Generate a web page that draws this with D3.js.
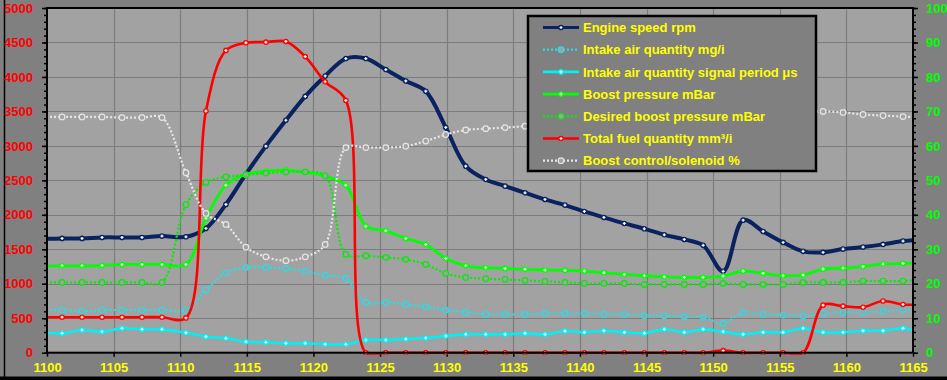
<!DOCTYPE html>
<html>
<head>
<meta charset="utf-8">
<script src="https://cdn.jsdelivr.net/npm/d3@7"></script>
<style>
  html, body { margin: 0; padding: 0; background: #808080; }
  svg { display: block; }
  text { font-family: "Liberation Sans", Arial, sans-serif; font-weight: bold; font-size: 13px; }
</style>
</head>
<body>
<div id="container"></div>
<script>
const width = 947;
const height = 380;

// sample times (first and last sit just outside the axis range)
const times = [1099.63, 1101.13, 1102.63, 1104.13, 1105.63, 1107.13, 1108.63, 1110.43, 1111.93, 1113.43,
  1114.93, 1116.43, 1117.93, 1119.38, 1120.88, 1122.43, 1123.93, 1125.43, 1126.93, 1128.43,
  1129.93, 1131.43, 1132.93, 1134.38, 1135.88, 1137.38, 1138.88, 1140.33, 1141.8, 1143.33,
  1144.83, 1146.33, 1147.83, 1149.25, 1150.75, 1152.25, 1153.75, 1155.25, 1156.75, 1158.25,
  1159.75, 1161.25, 1162.75, 1164.25, 1165.75];

// left axis series
const engineSpeed = [1650, 1658, 1658, 1672, 1672, 1672, 1691, 1681, 1803, 2151,
  2590, 2996, 3372, 3718, 4014, 4267, 4267, 4107, 3942, 3793,
  3267, 2706, 2513, 2416, 2319, 2223, 2141, 2049, 1962, 1875,
  1797, 1710, 1643, 1557, 1180, 1923, 1759, 1600, 1470, 1455,
  1503, 1532, 1571, 1619, 1640];
const intakeAir = [609, 619, 604, 619, 619, 619, 619, 619, 909, 1159,
  1237, 1237, 1223, 1184, 1120, 1078, 730, 730, 701, 667,
  619, 585, 556, 556, 556, 571, 571, 571, 556, 556,
  536, 536, 522, 513, 426, 580, 556, 546, 532, 571,
  585, 585, 600, 619, 625];
const intakeSignal = [296, 281, 329, 304, 353, 339, 339, 290, 232, 209,
  159, 151, 136, 136, 122, 122, 184, 184, 199, 213,
  242, 266, 266, 266, 281, 266, 314, 296, 319, 296,
  281, 339, 296, 339, 304, 266, 296, 296, 353, 296,
  296, 319, 319, 353, 290];
const boostPressure = [1260, 1261, 1261, 1265, 1281, 1281, 1281, 1281, 1948, 2430,
  2590, 2633, 2648, 2615, 2560, 2430, 1836, 1768, 1658, 1571,
  1368, 1261, 1232, 1223, 1209, 1199, 1194, 1184, 1159, 1136,
  1116, 1101, 1092, 1092, 1111, 1184, 1150, 1116, 1126, 1213,
  1228, 1252, 1286, 1295, 1305];
const desiredBoost = [1020, 1020, 1020, 1020, 1020, 1020, 1020, 2146, 2470, 2551,
  2580, 2605, 2620, 2623, 2566, 1426, 1406, 1383, 1354, 1281,
  1150, 1092, 1073, 1063, 1049, 1034, 1020, 1005, 1005, 1005,
  991, 991, 991, 991, 1005, 991, 991, 991, 1020, 1020,
  1020, 1039, 1039, 1039, 1068];
// right axis series
const fuelQuantity = [10.3, 10.3, 10.3, 10.3, 10.3, 10.3, 10.3, 10.1, 70.1, 87.7,
  89.9, 90.1, 90.3, 85.9, 78.6, 73.2, 0, 0, 0, 0,
  0, 0, 0, 0, 0, 0, 0, 0, 0, 0,
  0, 0, 0, 0, 0.6, 0, 0, 0, 0, 13.8,
  13.5, 13.2, 15.0, 14.0, 14.0];
const boostControl = [68.4, 68.4, 68.4, 68.4, 68.2, 68.2, 68.2, 52.2, 40.4, 37.2,
  30.6, 27.8, 26.7, 27.8, 31.4, 59.5, 59.5, 59.5, 59.9, 61.4,
  63.3, 64.6, 65.0, 65.3, 65.7, 66.0, 66.3, 66.5, 66.8, 67.0,
  67.3, 67.5, 67.8, 68.0, 68.3, 68.6, 68.9, 69.2, 69.6, 70.0,
  69.7, 69.1, 68.8, 68.5, 68.2];

const seriesNames = ["Engine speed rpm", "Intake air quantity mg/i", "Intake air quantity signal period \u03bcs",
  "Boost pressure mBar", "Desired boost pressure mBar", "Total fuel quantity mm\u00b3/i", "Boost control/solenoid %"];

const xTicks = d3.range(1100, 1166, 5);
const leftTicks = d3.range(0, 5001, 500);
const rightTicks = d3.range(0, 101, 10);

// plot frame
const plot = { left: 47, right: 913, top: 8, bottom: 352.7 };

const x = d3.scaleLinear().domain([1100, 1165]).range([plot.left, plot.right]);
const yLeft = d3.scaleLinear().domain([0, 5000]).range([plot.bottom, plot.top]);
const yRight = d3.scaleLinear().domain([0, 100]).range([plot.bottom, plot.top]);

const series = [
  { name: seriesNames[0], values: engineSpeed, y: yLeft, color: "#0a2360", width: 4, dotted: false },
  { name: seriesNames[1], values: intakeAir, y: yLeft, color: "#22e0ea", width: 2.2, dotted: true },
  { name: seriesNames[2], values: intakeSignal, y: yLeft, color: "#00f0f8", width: 2.6, dotted: false },
  { name: seriesNames[3], values: boostPressure, y: yLeft, color: "#00ff00", width: 2.8, dotted: false },
  { name: seriesNames[4], values: desiredBoost, y: yLeft, color: "#00ee00", width: 2.2, dotted: true },
  { name: seriesNames[5], values: fuelQuantity, y: yRight, color: "#ff0000", width: 2.6, dotted: false },
  { name: seriesNames[6], values: boostControl, y: yRight, color: "#e6e6e6", width: 2.2, dotted: true }
];

const svg = d3.select("#container").append("svg")
  .attr("width", width)
  .attr("height", height);

svg.append("rect").attr("width", width).attr("height", height).attr("fill", "#808080");
// frame edges of the picture
svg.append("line").attr("x1", 4.5).attr("x2", 4.5).attr("y1", 0).attr("y2", height)
  .attr("stroke", "#000").attr("stroke-width", 1.5);
svg.append("rect").attr("x", 0).attr("y", 376.5).attr("width", width).attr("height", 4).attr("fill", "#000");

// plot area
svg.append("rect")
  .attr("x", plot.left).attr("y", plot.top)
  .attr("width", plot.right - plot.left).attr("height", plot.bottom - plot.top)
  .attr("fill", "#a2a2a2");

// grid
const grid = svg.append("g").attr("class", "grid");
grid.selectAll("line.h").data(leftTicks.slice(1, -1)).enter().append("line")
  .attr("x1", plot.left).attr("x2", plot.right)
  .attr("y1", d => Math.round(yLeft(d)) + 0.5).attr("y2", d => Math.round(yLeft(d)) + 0.5)
  .attr("stroke", "#7c7c7c").attr("stroke-width", 1.2);
grid.selectAll("line.v").data(xTicks.slice(1, -1)).enter().append("line")
  .attr("y1", plot.top).attr("y2", plot.bottom)
  .attr("x1", d => Math.round(x(d)) + 0.5).attr("x2", d => Math.round(x(d)) + 0.5)
  .attr("stroke", "#7c7c7c").attr("stroke-width", 1.2);

// axes
function styleAxis(g, color) {
  g.select(".domain").remove();
  g.selectAll(".tick line").attr("stroke", "#000").attr("stroke-width", 1.5);
  g.selectAll(".tick text").attr("fill", color).style("font-size", "13px").style("font-weight", "bold");
}

svg.append("g")
  .attr("transform", `translate(${plot.left},0)`)
  .call(d3.axisLeft(yLeft).tickValues(d3.range(0, 5001, 100)).tickSize(3).tickFormat(""))
  .call(g => styleAxis(g, "#f00"));
svg.append("g")
  .attr("transform", `translate(${plot.left},0)`)
  .call(d3.axisLeft(yLeft).tickValues(leftTicks).tickSize(5).tickPadding(9).tickFormat(d3.format("d")))
  .call(g => styleAxis(g, "#f00"));

svg.append("g")
  .attr("transform", `translate(${plot.right},0)`)
  .call(d3.axisRight(yRight).tickValues(d3.range(0, 101, 2)).tickSize(3).tickFormat(""))
  .call(g => styleAxis(g, "#0f0"));
svg.append("g")
  .attr("transform", `translate(${plot.right},0)`)
  .call(d3.axisRight(yRight).tickValues(rightTicks).tickSize(5).tickPadding(8).tickFormat(d3.format("d")))
  .call(g => styleAxis(g, "#0f0"));

svg.append("g")
  .attr("transform", `translate(0,${plot.bottom})`)
  .call(d3.axisBottom(x).tickValues(xTicks).tickSize(4).tickPadding(6).tickFormat(d3.format("d")))
  .call(g => styleAxis(g, "#ff0"));

// series
svg.append("clipPath").attr("id", "clip").append("rect")
  .attr("x", plot.left).attr("y", plot.top - 3)
  .attr("width", plot.right - plot.left).attr("height", plot.bottom - plot.top + 5);

const lines = svg.append("g").attr("clip-path", "url(#clip)");

series.forEach(s => {
  const pts = times.map((t, i) => [t, s.values[i]]);
  const line = d3.line()
    .x(d => x(d[0]))
    .y(d => s.y(d[1]))
    .curve(d3.curveCatmullRom.alpha(0.5));
  lines.append("path")
    .datum(pts)
    .attr("fill", "none")
    .attr("stroke", s.color)
    .attr("stroke-width", s.width)
    .attr("stroke-dasharray", s.dotted ? "2,2" : null)
    .attr("d", line);
  const marks = pts.slice(1, -1);
  drawMarkers(lines, marks.map(d => [x(d[0]), s.y(d[1])]), s);
});

function drawMarkers(g, xy, s) {
  const m = g.append("g");
  if (s.dotted) {
    m.selectAll("circle").data(xy).enter().append("circle")
      .attr("cx", d => d[0]).attr("cy", d => d[1]).attr("r", 2.8)
      .attr("fill", "#a2a2a2").attr("stroke", s.color).attr("stroke-width", 1.2);
  } else {
    m.selectAll("circle").data(xy).enter().append("circle")
      .attr("cx", d => d[0]).attr("cy", d => d[1]).attr("r", 2.8)
      .attr("fill", s.color);
    m.selectAll("path").data(xy).enter().append("path")
      .attr("d", d => `M${d[0] - 1.5},${d[1]}H${d[0] + 1.5}M${d[0]},${d[1] - 1.5}V${d[1] + 1.5}`)
      .attr("stroke", "#fff").attr("stroke-width", 1.2);
  }
}

// plot frame
svg.append("rect")
  .attr("x", plot.left).attr("y", plot.top)
  .attr("width", plot.right - plot.left).attr("height", plot.bottom - plot.top)
  .attr("fill", "none").attr("stroke", "#000").attr("stroke-width", 2);

// legend
const legend = svg.append("g").attr("class", "legend");
legend.append("rect")
  .attr("x", 528).attr("y", 16).attr("width", 288).attr("height", 155)
  .attr("fill", "#808080").attr("stroke", "#000").attr("stroke-width", 2.5);

series.forEach((s, i) => {
  const cy = 27.5 + i * 22.2;
  legend.append("line")
    .attr("x1", 543).attr("x2", 579).attr("y1", cy).attr("y2", cy)
    .attr("stroke", s.color).attr("stroke-width", Math.min(s.width, 3))
    .attr("stroke-dasharray", s.dotted ? "2,2" : null);
  drawMarkers(legend, [[561, cy]], s);
  legend.append("text")
    .attr("x", 583).attr("y", cy).attr("dy", "0.36em")
    .attr("fill", "#ff0")
    .text(s.name);
});
</script>
</body>
</html>
